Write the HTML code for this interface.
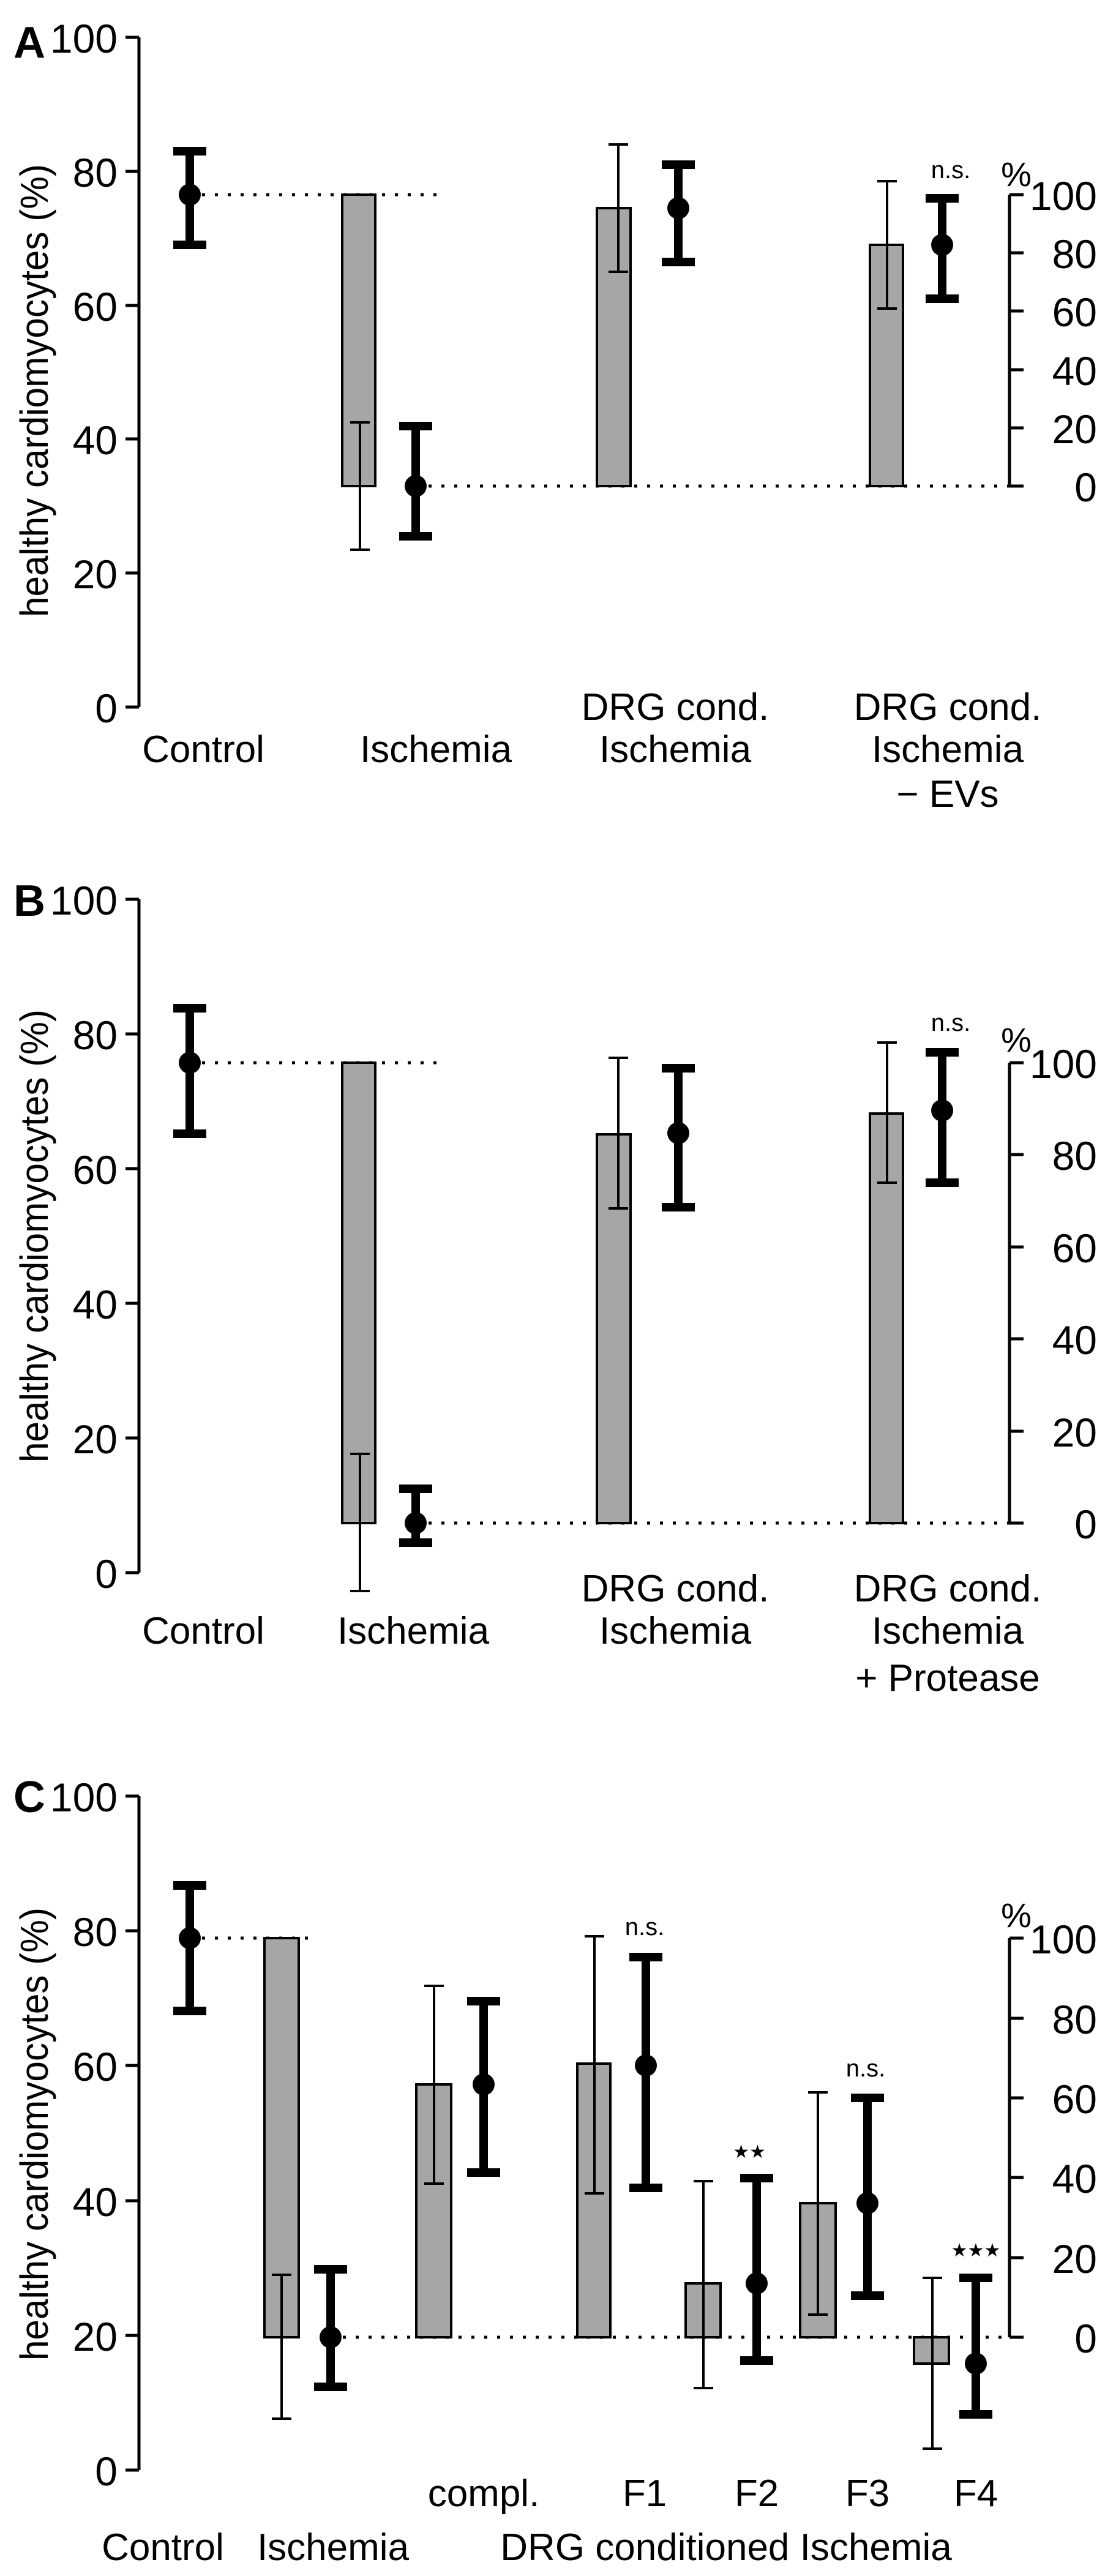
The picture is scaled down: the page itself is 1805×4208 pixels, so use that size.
<!DOCTYPE html>
<html><head><meta charset="utf-8"><style>
html,body{margin:0;padding:0;background:#fff}
svg{display:block}
text{font-family:"Liberation Sans",Arial,sans-serif;fill:#000}
.t{font-size:66px}
.c{font-size:62px;text-anchor:middle}
.r{text-anchor:end}
.ns{font-size:40px;text-anchor:middle}
.bar{fill:#a6a6a6;stroke:#000;stroke-width:4}
.thin{stroke:#000;stroke-width:4;fill:none}
.thick{stroke:#000;stroke-width:14;fill:none}
.ax{stroke:#000;stroke-width:5;fill:none}
.dot{stroke:#000;stroke-width:5;stroke-dasharray:5 16}
.yl{font-size:64px;text-anchor:middle}
</style></head><body>
<svg width="1805" height="4208" viewBox="0 0 1805 4208" xmlns="http://www.w3.org/2000/svg">
<!-- ================= PANEL A ================= -->
<text x="22" y="94" style="font-size:72px;font-weight:bold">A</text>
<text class="yl" transform="translate(78,638) rotate(-90)" textLength="740" lengthAdjust="spacingAndGlyphs">healthy cardiomyocytes (%)</text>
<path class="ax" d="M227 61V1155M205 1155H227M205 936H227M205 717H227M205 499H227M205 280H227M205 61H227"/>
<g class="t r"><text x="192" y="1180">0</text><text x="192" y="961">20</text><text x="192" y="742">40</text><text x="192" y="524">60</text><text x="192" y="305">80</text><text x="192" y="86">100</text></g>
<path class="ax" d="M1649 318V794M1649 794H1672M1649 699H1672M1649 604H1672M1649 508H1672M1649 413H1672M1649 318H1672"/>
<g class="t r"><text x="1792" y="819">0</text><text x="1792" y="724">20</text><text x="1792" y="629">40</text><text x="1792" y="533">60</text><text x="1792" y="438">80</text><text x="1792" y="343">100</text></g>
<text x="1660" y="304" style="font-size:56px;text-anchor:middle">%</text>
<path class="dot" d="M330 318H717M700 794H1649"/>
<path class="thick" d="M310 247V400M283 247H337M283 400H337"/><circle cx="310" cy="318" r="18"/>
<rect class="bar" x="559" y="318" width="54" height="476"/>
<path class="thin" d="M588 690V898M572 690H604M572 898H604"/>
<path class="thick" d="M679 696V876M652 696H706M652 876H706"/><circle cx="679" cy="794" r="18"/>
<rect class="bar" x="975" y="340" width="55" height="454"/>
<path class="thin" d="M1010 236V444M994 236H1026M994 444H1026"/>
<path class="thick" d="M1108 269V428M1081 269H1135M1081 428H1135"/><circle cx="1108" cy="340" r="18"/>
<rect class="bar" x="1421" y="400" width="54" height="394"/>
<path class="thin" d="M1449 296V504M1433 296H1465M1433 504H1465"/>
<path class="thick" d="M1539 324V488M1512 324H1566M1512 488H1566"/><circle cx="1539" cy="400" r="18"/>
<text class="ns" x="1553" y="291">n.s.</text>
<g class="c"><text x="332" y="1245">Control</text><text x="712" y="1245">Ischemia</text>
<text x="1103" y="1176">DRG cond.</text><text x="1103" y="1245">Ischemia</text>
<text x="1548" y="1176">DRG cond.</text><text x="1548" y="1245">Ischemia</text><text x="1548" y="1318">− EVs</text></g>

<!-- ================= PANEL B ================= -->
<text x="22" y="1496" style="font-size:72px;font-weight:bold">B</text>
<text class="yl" transform="translate(78,2019) rotate(-90)" textLength="740" lengthAdjust="spacingAndGlyphs">healthy cardiomyocytes (%)</text>
<path class="ax" d="M227 1469V2569M205 2569H227M205 2349H227M205 2129H227M205 1909H227M205 1689H227M205 1469H227"/>
<g class="t r"><text x="192" y="2594">0</text><text x="192" y="2374">20</text><text x="192" y="2154">40</text><text x="192" y="1934">60</text><text x="192" y="1714">80</text><text x="192" y="1494">100</text></g>
<path class="ax" d="M1649 1736V2488M1649 2488H1672M1649 2338H1672M1649 2187H1672M1649 2037H1672M1649 1886H1672M1649 1736H1672"/>
<g class="t r"><text x="1792" y="2513">0</text><text x="1792" y="2363">20</text><text x="1792" y="2212">40</text><text x="1792" y="2062">60</text><text x="1792" y="1911">80</text><text x="1792" y="1761">100</text></g>
<text x="1660" y="1718" style="font-size:56px;text-anchor:middle">%</text>
<path class="dot" d="M330 1736H717M700 2488H1649"/>
<path class="thick" d="M310 1647V1852M283 1647H337M283 1852H337"/><circle cx="310" cy="1736" r="18"/>
<rect class="bar" x="559" y="1736" width="54" height="752"/>
<path class="thin" d="M588 2375V2599M572 2375H604M572 2599H604"/>
<path class="thick" d="M679 2432V2520M652 2432H706M652 2520H706"/><circle cx="679" cy="2488" r="18"/>
<rect class="bar" x="975" y="1853" width="55" height="635"/>
<path class="thin" d="M1010 1728V1974M994 1728H1026M994 1974H1026"/>
<path class="thick" d="M1108 1745V1972M1081 1745H1135M1081 1972H1135"/><circle cx="1108" cy="1851" r="18"/>
<rect class="bar" x="1421" y="1819" width="54" height="669"/>
<path class="thin" d="M1449 1703V1932M1433 1703H1465M1433 1932H1465"/>
<path class="thick" d="M1539 1719V1932M1512 1719H1566M1512 1932H1566"/><circle cx="1539" cy="1814" r="18"/>
<text class="ns" x="1553" y="1684">n.s.</text>
<g class="c"><text x="332" y="2685">Control</text><text x="675" y="2685">Ischemia</text>
<text x="1103" y="2616">DRG cond.</text><text x="1103" y="2685">Ischemia</text>
<text x="1548" y="2616">DRG cond.</text><text x="1548" y="2685">Ischemia</text><text x="1548" y="2762">+ Protease</text></g>

<!-- ================= PANEL C ================= -->
<text x="22" y="2960" style="font-size:72px;font-weight:bold">C</text>
<text class="yl" transform="translate(78,3486) rotate(-90)" textLength="740" lengthAdjust="spacingAndGlyphs">healthy cardiomyocytes (%)</text>
<path class="ax" d="M227 2934V4035M205 4035H227M205 3815H227M205 3595H227M205 3374H227M205 3154H227M205 2934H227"/>
<g class="t r"><text x="192" y="4060">0</text><text x="192" y="3840">20</text><text x="192" y="3620">40</text><text x="192" y="3399">60</text><text x="192" y="3179">80</text><text x="192" y="2959">100</text></g>
<path class="ax" d="M1649 3166V3818M1649 3818H1672M1649 3688H1672M1649 3557H1672M1649 3427H1672M1649 3297H1672M1649 3166H1672"/>
<g class="t r"><text x="1792" y="3843">0</text><text x="1792" y="3713">20</text><text x="1792" y="3582">40</text><text x="1792" y="3452">60</text><text x="1792" y="3322">80</text><text x="1792" y="3191">100</text></g>
<text x="1660" y="3148" style="font-size:56px;text-anchor:middle">%</text>
<path class="dot" d="M330 3166H515M560 3818H1649"/>
<path class="thick" d="M310 3080V3285M283 3080H337M283 3285H337"/><circle cx="310" cy="3166" r="18"/>
<rect class="bar" x="432" y="3166" width="56" height="652"/>
<path class="thin" d="M460 3716V3951M444 3716H476M444 3951H476"/>
<path class="thick" d="M540 3707V3899M513 3707H567M513 3899H567"/><circle cx="540" cy="3818" r="18"/>
<rect class="bar" x="680" y="3405" width="57" height="413"/>
<path class="thin" d="M709 3244V3567M693 3244H725M693 3567H725"/>
<path class="thick" d="M790 3269V3549M763 3269H817M763 3549H817"/><circle cx="790" cy="3405" r="18"/>
<rect class="bar" x="943" y="3371" width="54" height="447"/>
<path class="thin" d="M971 3163V3583M955 3163H987M955 3583H987"/>
<path class="thick" d="M1055 3197V3574M1028 3197H1082M1028 3574H1082"/><circle cx="1055" cy="3374" r="18"/>
<rect class="bar" x="1120" y="3730" width="57" height="88"/>
<path class="thin" d="M1149 3563V3901M1133 3563H1165M1133 3901H1165"/>
<path class="thick" d="M1236 3558V3856M1209 3558H1263M1209 3856H1263"/><circle cx="1236" cy="3730" r="18"/>
<rect class="bar" x="1307" y="3599" width="58" height="219"/>
<path class="thin" d="M1336 3418V3781M1320 3418H1352M1320 3781H1352"/>
<path class="thick" d="M1417 3427V3750M1390 3427H1444M1390 3750H1444"/><circle cx="1417" cy="3599" r="18"/>
<rect class="bar" x="1493" y="3818" width="57" height="43"/>
<path class="thin" d="M1523 3721V4000M1507 3721H1539M1507 4000H1539"/>
<path class="thick" d="M1594 3721V3944M1567 3721H1621M1567 3944H1621"/><circle cx="1594" cy="3861" r="18"/>
<text class="ns" x="1053" y="3161">n.s.</text>
<text class="ns" x="1414" y="3392">n.s.</text>
<text x="1224" y="3525" style="font-size:30px;text-anchor:middle">★★</text>
<text x="1594" y="3686" style="font-size:30px;text-anchor:middle">★★★</text>
<g class="c"><text x="790" y="4094">compl.</text><text x="1053" y="4094">F1</text><text x="1236" y="4094">F2</text><text x="1417" y="4094">F3</text><text x="1594" y="4094">F4</text>
<text x="266" y="4182">Control</text><text x="544" y="4182">Ischemia</text><text x="1186" y="4182">DRG conditioned Ischemia</text></g>
</svg>
</body></html>
